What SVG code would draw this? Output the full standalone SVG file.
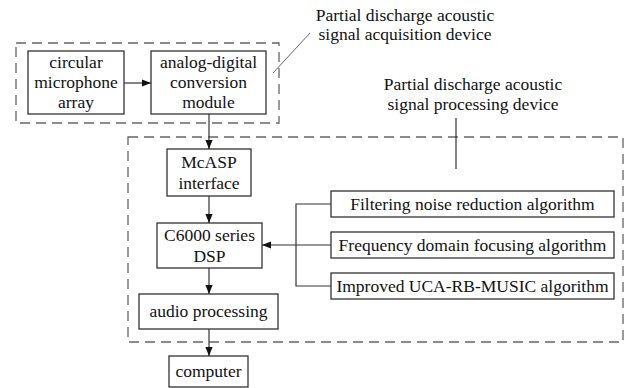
<svg xmlns="http://www.w3.org/2000/svg" width="629" height="388" viewBox="0 0 629 388">
<style>
.box{fill:#fff;stroke:#333;stroke-width:1.3}
.grp{fill:none;stroke:#666;stroke-width:1.3;stroke-dasharray:10 6}
.ln{fill:none;stroke:#333;stroke-width:1.2}
.lead{fill:none;stroke:#666;stroke-width:1}
text{font-family:"Liberation Serif","Times New Roman",serif;font-size:17.5px;fill:#111;text-anchor:middle}
</style>
<defs>
<marker id="ah" viewBox="0 0 10 10" refX="10" refY="5" markerWidth="9" markerHeight="9" markerUnits="userSpaceOnUse" orient="auto">
<path d="M0,1 L10,5 L0,9 z" fill="#111"/>
</marker>
</defs>
<g id="acq-group">
<rect class="grp" x="16" y="43" width="263" height="80"/>
<line class="lead" x1="273" y1="73" x2="310" y2="33"/>
<text x="405" y="21">Partial discharge acoustic</text>
<text x="405" y="40">signal acquisition device</text>
</g>
<g id="proc-group">
<rect class="grp" x="128" y="137" width="495" height="205"/>
<line class="ln" x1="456" y1="118" x2="456" y2="169"/>
<text x="473" y="90">Partial discharge acoustic</text>
<text x="473" y="110">signal processing device</text>
</g>
<g id="mic">
<rect class="box" x="28" y="51" width="96" height="63"/>
<text x="76" y="68">circular</text>
<text x="76" y="88">microphone</text>
<text x="76" y="108">array</text>
</g>
<g id="adc">
<rect class="box" x="151" y="51" width="115" height="63"/>
<text x="208.5" y="68">analog-digital</text>
<text x="208.5" y="88">conversion</text>
<text x="208.5" y="108">module</text>
</g>
<g id="mcasp">
<rect class="box" x="167" y="149" width="84" height="47"/>
<text x="209" y="168">McASP</text>
<text x="209" y="189">interface</text>
</g>
<g id="dsp">
<rect class="box" x="157" y="223" width="105" height="45"/>
<text x="209.5" y="241">C6000 series</text>
<text x="209.5" y="262">DSP</text>
</g>
<g id="audio">
<rect class="box" x="139" y="294" width="139" height="35"/>
<text x="208.5" y="317">audio processing</text>
</g>
<g id="computer">
<rect class="box" x="169" y="356" width="79" height="31"/>
<text x="208.5" y="377">computer</text>
</g>
<g id="filter">
<rect class="box" x="331" y="191" width="283" height="26"/>
<text x="472.5" y="210">Filtering noise reduction algorithm</text>
</g>
<g id="freq">
<rect class="box" x="331" y="232" width="283" height="26"/>
<text x="472.5" y="251">Frequency domain focusing algorithm</text>
</g>
<g id="music">
<rect class="box" x="331" y="273" width="283" height="26"/>
<text x="472.5" y="292">Improved UCA-RB-MUSIC algorithm</text>
</g>
<g id="connectors">
<line class="ln" x1="124" y1="83" x2="151" y2="83" marker-end="url(#ah)"/>
<line class="ln" x1="209" y1="114" x2="209" y2="149" marker-end="url(#ah)"/>
<line class="ln" x1="209" y1="196" x2="209" y2="223" marker-end="url(#ah)"/>
<line class="ln" x1="209" y1="268" x2="209" y2="294" marker-end="url(#ah)"/>
<line class="ln" x1="209" y1="329" x2="209" y2="356" marker-end="url(#ah)"/>
<path class="ln" d="M331,204 H296 V286 H331 M331,245 H296"/>
<line class="ln" x1="296" y1="245" x2="262" y2="245" marker-end="url(#ah)"/>
</g>
</svg>
